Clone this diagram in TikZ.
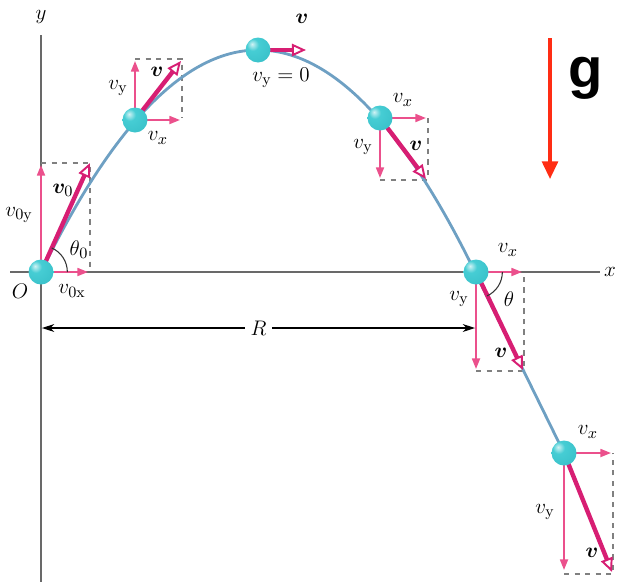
\documentclass[tikz,border=0pt]{standalone}
\usepackage{fontspec}
\usepackage{bm}
\newfontfamily\gfont{Liberation Sans}
\usetikzlibrary{arrows.meta}
\definecolor{curvec}{RGB}{110,160,195}
\definecolor{vmag}{RGB}{215,30,115}
\definecolor{pinkc}{RGB}{235,80,140}
\definecolor{ballc}{RGB}{70,205,212}
\definecolor{balle}{RGB}{25,160,172}
\definecolor{gred}{RGB}{255,45,20}
\definecolor{axisc}{RGB}{105,105,105}
\pgfdeclareradialshading{myball}{\pgfpoint{-12bp}{12bp}}{%
  color(0bp)=(white!75!ballc); color(12bp)=(ballc); color(40bp)=(ballc!70!balle); color(65bp)=(balle); color(100bp)=(balle)}
\begin{document}
\begin{tikzpicture}[x=0.02cm,y=-0.02cm,
  vec/.style={line width=2.5pt, draw=vmag, -{Triangle[length=8pt,width=7pt,fill=white,line width=1.1pt]}},
  comp/.style={line width=1.1pt, draw=pinkc, -{Triangle[length=6pt,width=4.5pt]}},
  dbox/.style={dashed, draw=gray, line width=0.8pt},
  ball/.style={circle, minimum size=0.5cm, inner sep=0pt, shading=myball},
  lbl/.style={font=\fontsize{12.5}{14}\selectfont, inner sep=1pt},
  axis/.style={draw=axisc, line width=1.2pt},
  arcst/.style={draw=black!80, line width=0.6pt}]
\useasboundingbox (0,0) rectangle (617,582);
% coordinates
\coordinate (c1) at (41,272);
\coordinate (c2) at (135,120);
\coordinate (c3) at (258,50);
\coordinate (c4) at (380,118);
\coordinate (c5) at (476,272);
\coordinate (c6) at (564,453);
% axes
\coordinate (xl) at (10,272); \coordinate (xr) at (600,272);
\coordinate (yt) at (41,35); \coordinate (yb) at (41,582);
\draw[axis] (xl) -- (xr);
\draw[axis] (yt) -- (yb);
\node[lbl] (ylab) at (41,17) {$y$};
\node[lbl] (xlab) at (610,272) {$x$};
\node[lbl] (olab) at (20,291) {$O$};
% dashed boxes
\coordinate (b1a) at (41,163); \coordinate (b1b) at (90,163); \coordinate (b1c) at (90,272);
\draw[dbox] (b1a) -- (b1b) -- (b1c);
\coordinate (b2a) at (135,59); \coordinate (b2b) at (182,59); \coordinate (b2c) at (182,118);
\draw[dbox] (b2a) -- (b2b) -- (b2c);
\coordinate (b4a) at (380,180); \coordinate (b4b) at (428,180); \coordinate (b4c) at (428,118);
\draw[dbox] (b4a) -- (b4b) -- (b4c);
\coordinate (b5a) at (476,371); \coordinate (b5b) at (524,371); \coordinate (b5c) at (524,272);
\draw[dbox] (b5a) -- (b5b) -- (b5c);
\coordinate (b6a) at (564,574); \coordinate (b6b) at (613,574); \coordinate (b6c) at (613,453);
\draw[dbox] (b6a) -- (b6b) -- (b6c);
% trajectory
\coordinate (land) at (475,272);
\draw[curvec, line width=1.6pt] (c1) .. controls (185.67,-24) and (330.33,-24) .. (land) -- (c6);
% component arrows
\coordinate (t1x) at (88,272); \coordinate (t1y) at (41,165);
\draw[comp] (c1) -- (t1x); \draw[comp] (c1) -- (t1y);
\coordinate (t2x) at (180,120); \coordinate (t2y) at (135,61);
\draw[comp] (c2) -- (t2x); \draw[comp] (c2) -- (t2y);
\coordinate (t4x) at (426,118); \coordinate (t4y) at (380,178);
\draw[comp] (c4) -- (t4x); \draw[comp] (c4) -- (t4y);
\coordinate (t5x) at (522,272); \coordinate (t5y) at (476,369);
\draw[comp] (c5) -- (t5x); \draw[comp] (c5) -- (t5y);
\coordinate (t6x) at (611,453); \coordinate (t6y) at (564,570);
\draw[comp] (c6) -- (t6x); \draw[comp] (c6) -- (t6y);
% velocity vectors
\coordinate (t1) at (90,163);
\coordinate (t2) at (181,61);
\coordinate (t3) at (306,50);
\coordinate (t4) at (426,179);
\coordinate (t5) at (523,370);
\coordinate (t6) at (612,572);
\draw[vec] (c1) -- (t1);
\draw[vec] (c2) -- (t2);
\draw[vec] (c3) -- (t3);
\draw[vec] (c4) -- (t4);
\draw[vec] (c5) -- (t5);
\draw[vec] (c6) -- (t6);
% angle arcs
\draw[arcst] (c1) ++(15pt,0pt) arc[start angle=0, end angle=66, radius=15pt];
\draw[arcst] (c5) ++(15pt,0pt) arc[start angle=0, end angle=-65, radius=15pt];
% balls
\node[ball] (ball1) at (c1) {};
\node[ball] (ball2) at (c2) {};
\node[ball] (ball3) at (c3) {};
\node[ball] (ball4) at (c4) {};
\node[ball] (ball5) at (c5) {};
\node[ball] (ball6) at (c6) {};
% R dimension
\coordinate (Rl) at (42,328); \coordinate (Rr) at (475,328);
\draw[line width=0.6pt, {Stealth[length=7pt,width=4.5pt]}-{Stealth[length=7pt,width=4.5pt]}] (Rl) -- node[lbl, fill=white, inner sep=3pt] (rlab) {$R$} (Rr);
% gravity
\coordinate (g1) at (550,38); \coordinate (g2) at (550,179);
\draw[gred, line width=1.8pt, -{Triangle[length=10pt,width=9pt]}] (g1) -- (g2);
\node[font=\gfont\bfseries\fontsize{32}{36}\selectfont] (glab) at (586,78) {g};
% labels
\node[lbl] (l1a) at (19,215) {$v_{0\mathrm{y}}$};
\node[lbl] (l1b) at (63,190) {$\bm{v}_0$};
\node[lbl] (l1c) at (79,250) {$\theta_0$};
\node[lbl] (l1d) at (72,291) {$v_{0\mathrm{x}}$};
\node[lbl] (l2a) at (118,88) {$v_{\mathrm{y}}$};
\node[lbl] (l2b) at (157,72) {$\bm{v}$};
\node[lbl] (l2c) at (158,138) {$v_x$};
\node[lbl] (l3a) at (302,19) {$\bm{v}$};
\node[lbl] (l3b) at (281,78) {$v_{\mathrm{y}} = 0$};
\node[lbl] (l4a) at (403,100) {$v_x$};
\node[lbl] (l4b) at (363,147) {$v_{\mathrm{y}}$};
\node[lbl] (l4c) at (416,146) {$\bm{v}$};
\node[lbl] (l5a) at (508,250) {$v_x$};
\node[lbl] (l5b) at (459,299) {$v_{\mathrm{y}}$};
\node[lbl] (l5c) at (509,299) {$\theta$};
\node[lbl] (l5d) at (501,353) {$\bm{v}$};
\node[lbl] (l6a) at (588,432) {$v_x$};
\node[lbl] (l6b) at (545,512) {$v_{\mathrm{y}}$};
\node[lbl] (l6c) at (592,553) {$\bm{v}$};
\end{tikzpicture}
\end{document}
